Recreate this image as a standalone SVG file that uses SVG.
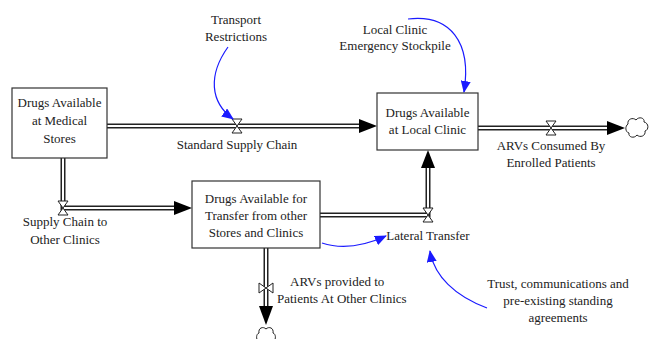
<svg xmlns="http://www.w3.org/2000/svg" width="652" height="339" viewBox="0 0 652 339">
<style>
text{font-family:'Liberation Serif','Times New Roman',serif;font-size:13px;fill:#222;text-anchor:middle}
.start{text-anchor:start}
.box{fill:#fff;stroke:#333;stroke-width:1.2}
.pipeO{fill:none;stroke:#222;stroke-width:5}
.pipeI{fill:none;stroke:#fff;stroke-width:2}
.valve{fill:#fff;stroke:#222;stroke-width:1}
.head{fill:#000}
.link{fill:none;stroke:#1a1aff;stroke-width:1.2}
.cloud{fill:#fff;stroke:#222;stroke-width:1}
</style>
<defs>
<marker id="ba" viewBox="0 0 12 10" refX="11" refY="5" markerWidth="12" markerHeight="10" markerUnits="userSpaceOnUse" orient="auto">
<path d="M0 0 L12 5 L0 10 Z" fill="#1a1aff"/>
</marker>
</defs>
<g id="connectors">
<path class="pipeO" d="M107 126 H362"/><path class="pipeI" d="M107 126 H362"/>
<path class="head" d="M359 119 L377 126 L359 133 Z"/>
<path class="pipeO" d="M478 128 H610"/><path class="pipeI" d="M478 128 H610"/>
<path class="head" d="M607 121 L625 128 L607 135 Z"/>
<path class="pipeO" d="M63 158 V208 H177"/><path class="pipeI" d="M63 158 V208 H177"/>
<path class="head" d="M174 201 L192 208 L174 215 Z"/>
<path class="pipeO" d="M320 215 H428 V165"/><path class="pipeI" d="M320 215 H428 V165"/>
<path class="head" d="M421 168 L428 150 L435 168 Z"/>
<path class="pipeO" d="M266 248 V309"/><path class="pipeI" d="M266 248 V309"/>
<path class="head" d="M259 306 L266 325 L273 306 Z"/>
<path class="valve" d="M232 119 H242 L232 133 H242 Z"/>
<path class="valve" d="M546 121 H556 L546 135 H556 Z"/>
<path class="valve" d="M58 201 H68 L58 215 H68 Z"/>
<path class="valve" d="M423 208 H433 L423 222 H433 Z"/>
<path class="valve" d="M259 283 V293 L273 283 V293 Z"/>
<path class="cloud" d="M628 124 C627 119 633 117 636 120 C639 116 645 118 644 122 C649 123 649 130 645 131 C646 136 640 138 637 135 C634 139 628 137 629 133 C625 132 625 126 628 124 Z"/>
<path class="cloud" d="M259 333 C258 328 263 326 266 329 C269 326 274 328 273 333 C276 334 276 339 274 341 L258 341 C256 339 256 334 259 333 Z"/>
<path class="link" marker-end="url(#ba)" d="M228 47 C208 75 210 102 233 119"/>
<path class="link" marker-end="url(#ba)" d="M408 19 C450 14 472 42 464 92"/>
<path class="link" marker-end="url(#ba)" d="M322 243 C343 250 364 246 386 236"/>
<path class="link" marker-end="url(#ba)" d="M487 308 C455 296 434 276 430 251"/>
</g>
<g id="medical-stores">
<rect class="box" x="12" y="88" width="95" height="70"/>
<text x="59.5" y="107">Drugs Available</text>
<text x="59.5" y="125">at Medical</text>
<text x="59.5" y="143">Stores</text>
</g>
<g id="local-clinic">
<rect class="box" x="377" y="93" width="101" height="57"/>
<text x="427.5" y="117">Drugs Available</text>
<text x="427.5" y="134">at Local Clinic</text>
</g>
<g id="transfer-stock">
<rect class="box" x="192" y="181" width="128" height="67"/>
<text x="256" y="203">Drugs Available for</text>
<text x="256" y="220">Transfer from other</text>
<text x="256" y="237">Stores and Clinics</text>
</g>
<g id="standard-supply-chain"><text x="237" y="149">Standard Supply Chain</text></g>
<g id="transport-restrictions"><text x="236" y="24">Transport</text><text x="236" y="41">Restrictions</text></g>
<g id="emergency-stockpile"><text x="395" y="34">Local Clinic</text><text x="395" y="50">Emergency Stockpile</text></g>
<g id="arvs-consumed"><text x="551" y="150">ARVs Consumed By</text><text x="551" y="167">Enrolled Patients</text></g>
<g id="supply-chain-other"><text x="65" y="226">Supply Chain to</text><text x="65" y="244">Other Clinics</text></g>
<g id="lateral-transfer"><text x="428" y="240">Lateral Transfer</text></g>
<g id="arvs-provided"><text class="start" x="290" y="286">ARVs provided to</text><text class="start" x="277" y="303">Patients At Other Clinics</text></g>
<g id="trust"><text x="558" y="288">Trust, communications and</text><text x="558" y="305">pre-existing standing</text><text x="558" y="322">agreements</text></g>
</svg>
